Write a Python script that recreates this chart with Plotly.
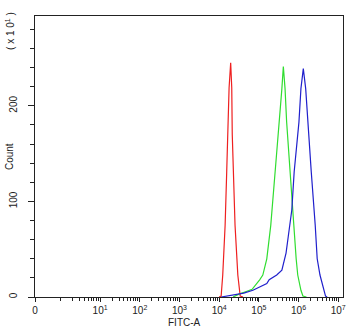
import numpy as np
import plotly.graph_objects as go

# log10(FITC-A intensity) and counts (units of 10^1)
red_logx = [4.00, 4.05, 4.09, 4.15, 4.19, 4.21, 4.25, 4.29, 4.317, 4.33, 4.36, 4.40, 4.47, 4.53, 4.60]
red_cnt = [0, 1, 23, 75, 131, 170, 219, 245, 219, 170, 131, 75, 23, 1, 0]

green_logx = [4.35, 4.50, 4.70, 4.83, 5.02, 5.10, 5.20, 5.30, 5.41, 5.52, 5.58, 5.617, 5.66, 5.70,
              5.79, 5.87, 5.94, 5.98, 6.02, 6.06, 6.11, 6.20]
green_cnt = [0, 3, 6, 8, 18, 23, 40, 75, 131, 183, 218, 241, 218, 183, 131, 75, 40, 23, 13, 7, 1, 0]

blue_logx = [4.05, 4.35, 4.62, 4.85, 5.05, 5.20, 5.26, 5.45, 5.58, 5.685, 5.74, 5.83, 5.89, 6.01,
             6.06, 6.12, 6.18, 6.23, 6.32, 6.42, 6.47, 6.54, 6.61, 6.64, 6.68, 6.72]
blue_cnt = [0, 2, 4, 7, 11, 14, 18, 23, 28, 46, 63, 91, 131, 183, 218, 239, 218, 183, 131, 75,
            40, 23, 13, 7, 1, 0]

x_tick_exp = [1, 2, 3, 4, 5, 6, 7]
x_zero_log = -0.64
y_major = [0, 100, 200]
y_minor = list(range(0, 300, 20))

font = dict(family="Liberation Sans, Arial, sans-serif", size=10, color="#222")

fig = go.Figure()
for lx, cnt, col in [(red_logx, red_cnt, "#ee2020"),
                     (green_logx, green_cnt, "#30dd30"),
                     (blue_logx, blue_cnt, "#2020cc")]:
    fig.add_trace(go.Scatter(x=[10 ** v for v in lx], y=cnt, mode="lines",
                             line=dict(color=col, width=1.2), showlegend=False))

minor_x = [k * 10 ** d for d in range(0, 7) for k in range(1, 10) if not (k == 1 and d > 0)]

fig.update_xaxes(
    type="log", range=[x_zero_log, 7.12], automargin=False,
    tickmode="array",
    tickvals=[10 ** x_zero_log] + [10 ** e for e in x_tick_exp],
    ticktext=["0"] + [f"10<sup>{e}</sup>" for e in x_tick_exp],
    ticks="outside", ticklen=4, tickcolor="#222", tickfont=font,
    minor=dict(tickmode="array", tickvals=minor_x, ticks="outside", ticklen=3, tickcolor="#222"),
    showline=True, linecolor="#222", linewidth=1, mirror=True,
    showgrid=False, zeroline=False,
)
fig.update_yaxes(
    range=[0, 294], automargin=False,
    tickmode="array", tickvals=y_major, ticktext=[str(v) for v in y_major],
    tickangle=-90, ticklabelstandoff=7,
    ticks="outside", ticklen=6, tickcolor="#222", tickfont=font,
    minor=dict(tickmode="array", tickvals=y_minor, ticks="outside", ticklen=4, tickcolor="#222"),
    showline=True, linecolor="#222", linewidth=1, mirror=True,
    showgrid=False, zeroline=False,
)

fig.add_annotation(text="Count", textangle=-90, x=-0.0844, y=0.498, xref="paper", yref="paper",
                   showarrow=False, font=font, xanchor="center", yanchor="middle")
fig.add_annotation(text="FITC-A", x=0.484, y=-0.0925, xref="paper", yref="paper",
                   showarrow=False, font=font, xanchor="center", yanchor="middle")
fig.add_annotation(text="( x 1 0<sup>1</sup> )", textangle=-90, x=-0.081, y=0.947, xref="paper", yref="paper",
                   showarrow=False, font=font, xanchor="center", yanchor="middle")

fig.update_layout(
    width=350, height=330,
    margin=dict(l=35, r=7, t=16, b=33, autoexpand=False),
    paper_bgcolor="white", plot_bgcolor="white",
    font=font,
)
fig.write_html("out.html")
